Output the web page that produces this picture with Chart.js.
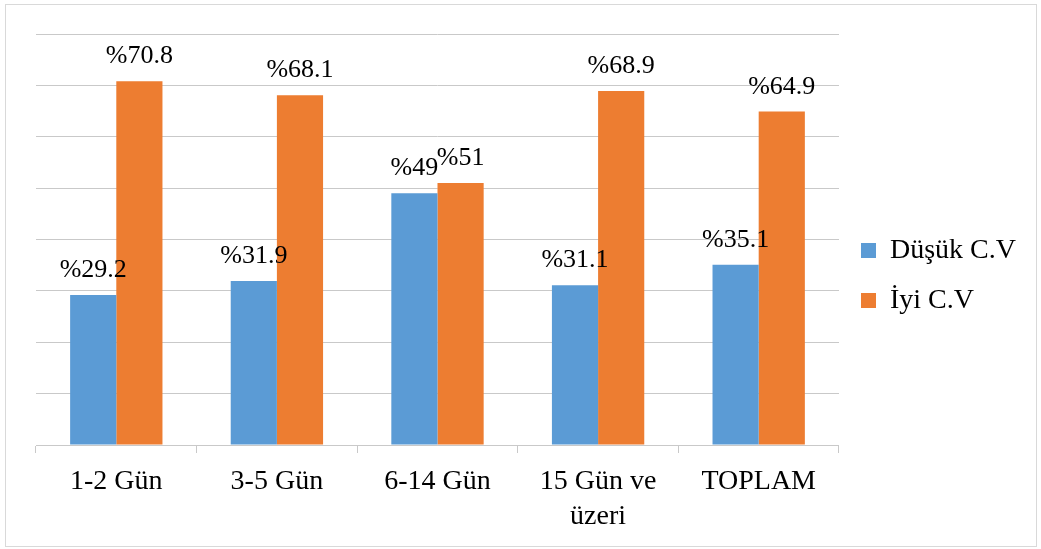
<!DOCTYPE html>
<html>
<head>
<meta charset="utf-8">
<script src="https://cdn.jsdelivr.net/npm/chart.js@4/dist/chart.umd.min.js"></script>
<style>
  html, body { margin: 0; padding: 0; background: #fff; }
  #box {
    position: absolute; left: 5px; top: 4px;
    width: 1030px; height: 541px;
    border: 1px solid #d9d9d9;
  }
</style>
</head>
<body>
<div id="box"><canvas id="cv"></canvas></div>
<script>
const categories = ['1-2 Gün', '3-5 Gün', '6-14 Gün', ['15 Gün ve', 'üzeri'], 'TOPLAM'];
const dusuk = [29.2, 31.9, 49, 31.1, 35.1];
const iyi = [70.8, 68.1, 51, 68.9, 64.9];
const seriesNames = ['Düşük C.V', 'İyi C.V'];

const FONT = '"Liberation Serif", "Times New Roman", serif';
const GRID = '#c9c9c9';

// value labels "%xx" above each bar
const barLabels = {
    id: 'barLabels',
    afterDatasetsDraw(chart) {
        const ctx = chart.ctx;
        ctx.save();
        ctx.font = '26px ' + FONT;
        ctx.fillStyle = '#000';
        ctx.textAlign = 'center';
        ctx.textBaseline = 'alphabetic';
        chart.data.datasets.forEach((ds, i) => {
            chart.getDatasetMeta(i).data.forEach((bar, j) => {
                ctx.fillText('%' + ds.data[j], bar.x, bar.y - 18);
            });
        });
        ctx.restore();
    }
};

// legend sits a bit higher than chart.js would center it
const legendNudge = {
    id: 'legendNudge',
    afterLayout(chart) {
        const lg = chart.legend;
        if (!lg) return;
        lg.top -= 14;
        lg.bottom -= 14;
    }
};

new Chart(document.getElementById('cv'), {
    type: 'bar',
    data: {
        labels: categories,
        datasets: [
            { label: seriesNames[0], data: dusuk, backgroundColor: '#5b9bd5' },
            { label: seriesNames[1], data: iyi, backgroundColor: '#ed7d31' }
        ]
    },
    options: {
        responsive: true,
        maintainAspectRatio: false,
        animation: false,
        categoryPercentage: 0.575,
        barPercentage: 1,
        layout: { padding: { left: 30, top: 29, right: 10, bottom: 1 } },
        scales: {
            x: {
                grid: { drawOnChartArea: false, drawTicks: true, tickLength: 8, color: GRID },
                border: { display: true, color: GRID },
                ticks: { color: '#000', padding: 11, maxRotation: 0, font: { family: FONT, size: 28, lineHeight: 1.25 } }
            },
            y: {
                min: 0, max: 80,
                ticks: { display: false, stepSize: 10 },
                grid: { color: GRID, drawTicks: false },
                border: { display: false }
            }
        },
        plugins: {
            legend: {
                position: 'right',
                labels: { boxWidth: 15, boxHeight: 15, padding: 22, color: '#000', font: { family: FONT, size: 28 } }
            },
            tooltip: { enabled: false }
        }
    },
    plugins: [barLabels, legendNudge]
});
</script>
</body>
</html>
